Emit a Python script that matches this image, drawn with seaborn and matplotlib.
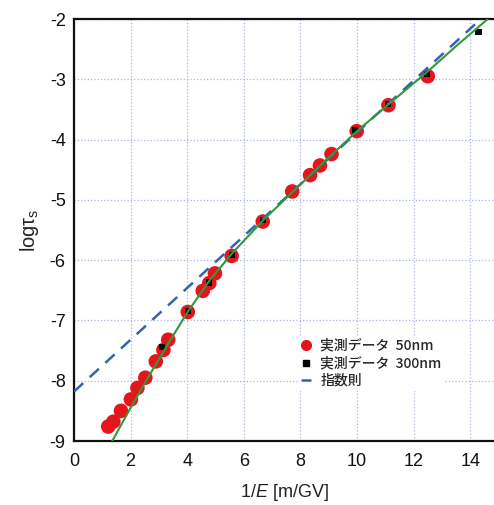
import matplotlib
matplotlib.use("Agg")
import matplotlib.pyplot as plt
from matplotlib.lines import Line2D
import seaborn as sns
import pandas as pd

# Measured data, 50 nm film (1/E in m/GV, log tau_s)
inv_e_50 = [1.21, 1.39, 1.66, 2.01, 2.24, 2.52, 2.89, 3.16, 3.33, 4.02, 4.55,
            4.78, 4.98, 5.57, 6.67, 7.71, 8.34, 8.69, 9.10, 9.99, 11.11, 12.50]
log_tau_50 = [-8.76, -8.68, -8.50, -8.31, -8.12, -7.95, -7.68, -7.49, -7.32, -6.86, -6.51,
              -6.38, -6.22, -5.93, -5.36, -4.86, -4.59, -4.43, -4.24, -3.86, -3.43, -2.95]

# Measured data, 300 nm film
inv_e_300 = [3.11, 4.02, 4.77, 5.57, 6.67, 9.93, 11.10, 12.46, 14.29]
log_tau_300 = [-7.44, -6.85, -6.37, -5.91, -5.33, -3.84, -3.41, -2.91, -2.22]

# Model curve through the data
curve_x = [1.35, 2.0, 2.7, 3.4, 4.0, 4.8, 5.6, 6.7, 7.5, 8.7, 10.0, 11.2, 12.5, 13.5, 14.62]
curve_y = [-9.0, -8.45, -7.88, -7.33, -6.87, -6.33, -5.88, -5.33, -4.97, -4.43, -3.86,
           -3.38, -2.87, -2.45, -2.0]

# Exponential law (straight line)
exp_x = [0.0, 14.84]
exp_y = [-8.18, -1.80]

x_ticks = [0, 2, 4, 6, 8, 10, 12, 14]
y_ticks = [-9, -8, -7, -6, -5, -4, -3, -2]

legend_labels = ["実測データ  50nm", "実測データ  300nm", "指数則"]

sns.set_style("white")
plt.rcParams["font.family"] = ["Liberation Sans", "DejaVu Sans"]
plt.rcParams["mathtext.fontset"] = "custom"
plt.rcParams["mathtext.rm"] = "Liberation Sans"
plt.rcParams["mathtext.it"] = "Liberation Sans:italic"

RED = "#e4161c"
GREEN = "#2f9a3c"
BLUE = "#3463ad"

fig = plt.figure(figsize=(4.94, 5.05), dpi=100)
ax = fig.add_axes([74 / 494, 64 / 505, 420 / 494, 422 / 505])

df50 = pd.DataFrame({"x": inv_e_50, "y": log_tau_50})
df300 = pd.DataFrame({"x": inv_e_300, "y": log_tau_300})
dfc = pd.DataFrame({"x": curve_x, "y": curve_y})
dfe = pd.DataFrame({"x": exp_x, "y": exp_y})

sns.scatterplot(data=df50, x="x", y="y", ax=ax, color=RED, s=110,
                edgecolor="none", marker="o", zorder=3)
sns.scatterplot(data=df300, x="x", y="y", ax=ax, color="black", s=20,
                edgecolor="none", marker="s", zorder=4)
sns.lineplot(data=dfe, x="x", y="y", ax=ax, color=BLUE, lw=1.8,
             dashes=False, zorder=5).lines[-1].set_dashes([5, 3.5])
sns.lineplot(data=dfc, x="x", y="y", ax=ax, color=GREEN, lw=1.5, zorder=6,
             estimator=None, sort=False)

ax.set_xlim(0, 14.84)
ax.set_ylim(-9, -2)
ax.set_xticks(x_ticks)
ax.set_yticks(y_ticks)
ax.set_xticklabels([str(v) for v in x_ticks])
ax.set_yticklabels([str(v) for v in y_ticks])

ax.grid(True, color="#aab4e6", linestyle=":", linewidth=0.9)
ax.set_axisbelow(True)

for side in ["left", "bottom", "top"]:
    ax.spines[side].set_linewidth(1.6)
    ax.spines[side].set_color("#111111")
ax.spines["right"].set_visible(False)

ax.tick_params(axis="both", direction="in", length=7, width=1.6,
               labelsize=13, colors="#111111", pad=6)
ax.tick_params(axis="x", pad=9)

ax.set_xlabel("1/$\\it{E}$ [m/GV]", fontsize=13, labelpad=8, color="#222222")
ax.set_ylabel("logτ$_\\mathrm{s}$", fontsize=14.5, labelpad=6, color="#222222")

handles = [
    Line2D([], [], marker="o", color=RED, ls="none", markersize=7),
    Line2D([], [], marker="s", color="black", ls="none", markersize=5),
    Line2D([], [], color=BLUE, lw=1.8),
]
leg = ax.legend(handles, legend_labels, loc="upper left", bbox_to_anchor=(0.52, 0.265),
                frameon=True, facecolor="white", edgecolor="none", framealpha=1,
                handlelength=0.6, handletextpad=0.7, labelspacing=0.25,
                borderpad=0.2, prop={"family": ["Noto Sans CJK JP", "DejaVu Sans"],
                                     "size": 10, "weight": "medium"})

fig.savefig("out.png", dpi=100)
